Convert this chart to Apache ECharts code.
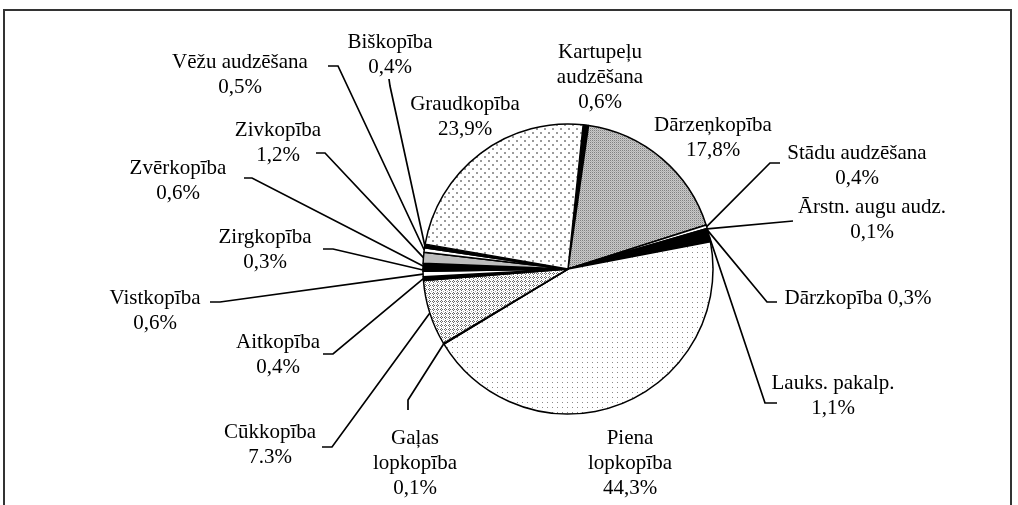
<!DOCTYPE html>
<html>
<head>
<meta charset="utf-8">
<script src="https://cdn.jsdelivr.net/npm/echarts@6/dist/echarts.min.js"></script>
<style>html,body{margin:0;padding:0;background:#fff}#c{width:1018px;height:505px}</style>
</head>
<body>
<div id="c"></div>
<script>
const categories = ['Kartupeļu\naudzēšana', 'Dārzeņkopība', 'Stādu audzēšana', 'Ārstn. augu audz.', 'Dārzkopība', 'Lauks. pakalp.', 'Piena\nlopkopība', 'Gaļas\nlopkopība', 'Cūkkopība', 'Aitkopība', 'Vistkopība', 'Zirgkopība', 'Zvērkopība', 'Zivkopība', 'Vēžu audzēšana', 'Biškopība', 'Graudkopība'];
const shares = [0.6, 17.8, 0.4, 0.1, 0.3, 1.1, 44.3, 0.1, 7.3, 0.4, 0.6, 0.3, 0.6, 1.2, 0.5, 0.4, 23.9];
const shareLabels = ['0,6%', '17,8%', '0,4%', '0,1%', '0,3%', '1,1%', '44,3%', '0,1%', '7.3%', '0,4%', '0,6%', '0,3%', '0,6%', '1,2%', '0,5%', '0,4%', '23,9%'];

// ---- styles / layout (not data) ----
function makePattern(size, bg, pixels) {
  const cv = document.createElement('canvas');
  cv.width = size; cv.height = size;
  const ctx = cv.getContext('2d');
  ctx.fillStyle = bg; ctx.fillRect(0, 0, size, size);
  pixels.forEach(function (p) { ctx.fillStyle = p[2]; ctx.fillRect(p[0], p[1], p[3] || 1, p[3] || 1); });
  return { image: cv, repeat: 'repeat' };
}
const patGraud = makePattern(8, '#ffffff', [[0, 0, '#9a9a9a', 2], [4, 4, '#9a9a9a', 2]]);
const patDarzen = makePattern(2, '#c8c8c8', [[0, 0, '#808080'], [1, 1, '#b0b0b0']]);
const patPiena = makePattern(5, '#ffffff', [[2, 2, '#8a8a8a']]);
const patCuk = makePattern(4, '#ffffff', [[1, 0, '#666666'], [0, 1, '#666666'], [2, 1, '#666666'], [1, 2, '#666666'], [3, 3, '#b0b0b0']]);

const sliceFills = ['#000000', patDarzen, '#ffffff', '#ffffff', '#000000', '#000000', patPiena, '#000000', patCuk, '#000000', '#ffffff', '#000000', '#000000', '#bdbdbd', '#ffffff', '#000000', patGraud];

const labelCfg = [
  { x: 600, y: 77.5, tail: null },
  { x: 713, y: 137.5, tail: null },
  { x: 857, y: 165.5, tail: [[770, 163], [780, 163]] },
  { x: 872, y: 219.5, tail: [[793, 221]] },
  { x: 858, y: 298, tail: [[767, 302], [777, 302]], sep: ' ' },
  { x: 833, y: 395.5, tail: [[765, 403], [777, 403]] },
  { x: 630, y: 463, tail: null },
  { x: 415, y: 463, tail: [[408, 400], [408, 410]] },
  { x: 270, y: 444.5, tail: [[332, 447], [322, 447]] },
  { x: 278, y: 354.5, tail: [[333, 354], [323, 354]] },
  { x: 155, y: 310.5, tail: [[220, 302], [210, 302]] },
  { x: 265, y: 250, tail: [[333, 249], [323, 249]] },
  { x: 178, y: 180.5, tail: [[252, 178], [244, 178]] },
  { x: 278, y: 142.5, tail: [[325, 153], [316, 153]] },
  { x: 240, y: 74.5, tail: [[338, 66], [328, 66]] },
  { x: 390, y: 54.5, tail: [[390, 86], [389, 79]] },
  { x: 465, y: 116.5, tail: null }
];

const seriesData = categories.map(function (name, i) {
  const item = {
    name: name,
    value: shares[i],
    itemStyle: { color: sliceFills[i] }
  };
  if (!labelCfg[i].tail) item.labelLine = { show: false };
  return item;
});

const chart = echarts.init(document.getElementById('c'), null, { renderer: 'canvas' });
chart.setOption({
  backgroundColor: '#ffffff',
  animation: false,
  graphic: [{
    type: 'rect',
    shape: { x: 4, y: 10, width: 1007, height: 530 },
    style: { fill: 'none', stroke: '#333333', lineWidth: 2 },
    silent: true,
    z: -1
  }],
  series: [{
    type: 'pie',
    center: [568, 269],
    radius: 145,
    startAngle: 84,
    clockwise: true,
    avoidLabelOverlap: false,
    itemStyle: { borderColor: '#000000', borderWidth: 1.5 },
    emphasis: { disabled: true },
    label: {
      show: true,
      position: 'outside',
      fontFamily: "'Liberation Serif', 'Times New Roman', serif",
      fontSize: 21,
      lineHeight: 25,
      color: '#000000',
      align: 'center',
      formatter: function (p) {
        const sep = labelCfg[p.dataIndex].sep || '\n';
        return p.name + sep + shareLabels[p.dataIndex];
      }
    },
    labelLine: {
      show: true,
      length: 10,
      length2: 10,
      lineStyle: { color: '#000000', width: 1.7 }
    },
    labelLayout: function (p) {
      const L = labelCfg[p.dataIndex];
      const res = { x: L.x, y: L.y, align: 'center', verticalAlign: 'middle' };
      if (L.tail && p.labelLinePoints && p.labelLinePoints.length) {
        res.labelLinePoints = [p.labelLinePoints[0]].concat(L.tail);
      }
      return res;
    },
    data: seriesData
  }]
});
</script>
</body>
</html>
